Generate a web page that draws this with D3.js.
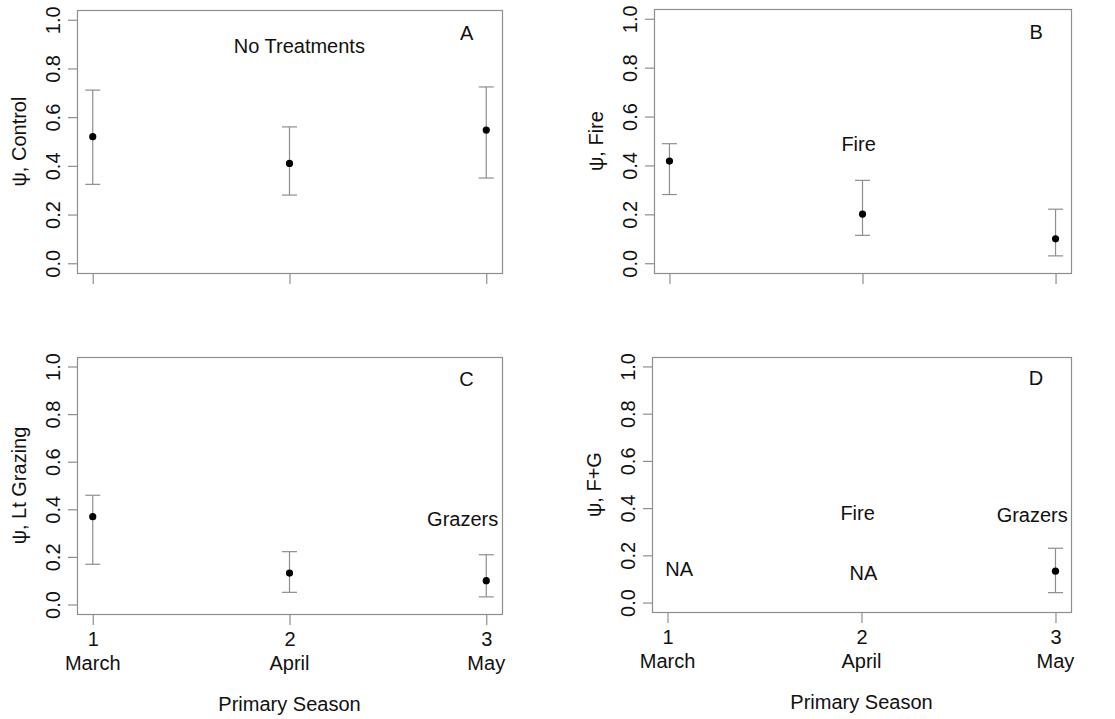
<!DOCTYPE html>
<html>
<head>
<meta charset="utf-8">
<script src="https://cdn.jsdelivr.net/npm/d3@7"></script>
<style>
  html, body { margin: 0; padding: 0; background: #fff; }
  svg { display: block; font-family: "Liberation Sans", Arial, sans-serif; }
</style>
</head>
<body>
<svg id="chart" width="1115" height="719"></svg>
<script>
// Primary seasons (x axis)
const seasons = [1, 2, 3];
const months = ["March", "April", "May"];
const yTicks = [0, 0.2, 0.4, 0.6, 0.8, 1.0];

// Occupancy estimates (psi) with lower / upper interval bounds, per treatment
const controlEst = [0.52, 0.41, 0.547];
const controlLo  = [0.324, 0.28, 0.35];
const controlHi  = [0.711, 0.56, 0.724];

const fireEst = [0.418, 0.201, 0.10];
const fireLo  = [0.281, 0.114, 0.03];
const fireHi  = [0.489, 0.339, 0.221];

const grazingEst = [0.369, 0.132, 0.10];
const grazingLo  = [0.169, 0.051, 0.032];
const grazingHi  = [0.459, 0.222, 0.209];

const fgEst = [null, null, 0.133];
const fgLo  = [null, null, 0.042];
const fgHi  = [null, null, 0.23];

// Text annotations placed in data coordinates: [label, season, psi]
const notesA = [["No Treatments", 2.05, 0.893], ["A", 2.9, 0.945]];
const notesB = [["Fire", 1.98, 0.49], ["B", 2.9, 0.945]];
const notesC = [["C", 2.9, 0.95], ["Grazers", 2.88, 0.358]];
const notesD = [["D", 2.9, 0.95], ["Fire", 1.98, 0.379], ["Grazers", 2.88, 0.371],
                ["NA", 1.06, 0.141], ["NA", 2.01, 0.124]];

const panels = [
  { ylab: "\u03C8, Control",    est: controlEst, lo: controlLo, hi: controlHi, notes: notesA,
    box: { l: 77, r: 502, t: 10, b: 273 }, xlabels: false },
  { ylab: "\u03C8, Fire",       est: fireEst, lo: fireLo, hi: fireHi, notes: notesB,
    box: { l: 654, r: 1071, t: 9, b: 273 }, xlabels: false },
  { ylab: "\u03C8, Lt Grazing", est: grazingEst, lo: grazingLo, hi: grazingHi, notes: notesC,
    box: { l: 77, r: 502, t: 357, b: 614 }, xlabels: true },
  { ylab: "\u03C8, F+G",        est: fgEst, lo: fgLo, hi: fgHi, notes: notesD,
    box: { l: 652, r: 1071, t: 357, b: 612 }, xlabels: true }
];

const svg = d3.select("#chart");
const lineCol = "#8e8e8e";
const textCol = "#111";
const fontSize = 20;

panels.forEach(p => {
  const b = p.box;
  // 4% padding on each side of the data range
  const x = d3.scaleLinear().domain([0.92, 3.08]).range([b.l, b.r]);
  const y = d3.scaleLinear().domain([-0.04, 1.04]).range([b.b, b.t]);
  const g = svg.append("g");

  // plot frame
  g.append("rect")
    .attr("x", b.l + 0.5).attr("y", b.t + 0.5)
    .attr("width", b.r - b.l).attr("height", b.b - b.t)
    .attr("fill", "none").attr("stroke", lineCol).attr("stroke-width", 1.2);

  // y axis
  const yAxis = d3.axisLeft(y).tickValues(yTicks).tickSize(9).tickPadding(0)
    .tickFormat(d3.format(".1f"));
  const ya = g.append("g").attr("transform", `translate(${b.l - 9},0)`).call(yAxis);
  ya.select(".domain").remove();
  ya.selectAll(".tick line").attr("stroke", lineCol).attr("stroke-width", 1.2)
    .attr("x2", 9).attr("x1", 0);
  ya.selectAll(".tick text")
    .attr("x", null).attr("dy", null)
    .attr("text-anchor", "middle")
    .attr("transform", "translate(-8,0) rotate(-90)")
    .attr("font-size", fontSize).attr("fill", textCol)
    .attr("font-family", "Liberation Sans, Arial, sans-serif");

  // x axis
  const xAxis = d3.axisBottom(x).tickValues(seasons).tickSize(10).tickPadding(4)
    .tickFormat(p.xlabels ? d3.format("d") : () => "");
  const xa = g.append("g").attr("transform", `translate(0,${b.b + 1})`).call(xAxis);
  xa.select(".domain").remove();
  xa.selectAll(".tick line").attr("stroke", lineCol).attr("stroke-width", 1.2);
  xa.selectAll(".tick text").attr("font-size", fontSize).attr("fill", textCol)
    .attr("font-family", "Liberation Sans, Arial, sans-serif")
    .attr("y", 31).attr("dy", null);

  if (p.xlabels) {
    seasons.forEach((s, i) => {
      g.append("text").attr("x", x(s)).attr("y", b.b + 56)
        .attr("text-anchor", "middle").attr("font-size", fontSize).attr("fill", textCol)
        .text(months[i]);
    });
    g.append("text").attr("x", (b.l + b.r) / 2).attr("y", b.b + 97)
      .attr("text-anchor", "middle").attr("font-size", fontSize).attr("fill", textCol)
      .text("Primary Season");
  }

  // y axis title
  g.append("text")
    .attr("transform", `translate(${b.l - 51},${(b.t + b.b) / 2}) rotate(-90)`)
    .attr("text-anchor", "middle").attr("font-size", fontSize).attr("fill", textCol)
    .text(p.ylab);

  // interval bars and point estimates
  const rows = seasons.map((s, i) => ({ s, est: p.est[i], lo: p.lo[i], hi: p.hi[i] }))
    .filter(d => d.est != null);
  const cap = 7.5;
  const eb = g.append("g").attr("stroke", lineCol).attr("stroke-width", 1.2);
  rows.forEach(d => {
    eb.append("line").attr("x1", x(d.s)).attr("x2", x(d.s)).attr("y1", y(d.lo)).attr("y2", y(d.hi));
    eb.append("line").attr("x1", x(d.s) - cap).attr("x2", x(d.s) + cap).attr("y1", y(d.lo)).attr("y2", y(d.lo));
    eb.append("line").attr("x1", x(d.s) - cap).attr("x2", x(d.s) + cap).attr("y1", y(d.hi)).attr("y2", y(d.hi));
  });
  g.selectAll("circle.pt").data(rows).enter().append("circle")
    .attr("class", "pt")
    .attr("cx", d => x(d.s)).attr("cy", d => y(d.est)).attr("r", 3.6)
    .attr("fill", "#000");

  // annotations
  p.notes.forEach(([label, sx, sy]) => {
    g.append("text").attr("x", x(sx)).attr("y", y(sy)).attr("dy", "0.36em")
      .attr("text-anchor", "middle").attr("font-size", fontSize).attr("fill", textCol)
      .text(label);
  });
});
</script>
</body>
</html>
